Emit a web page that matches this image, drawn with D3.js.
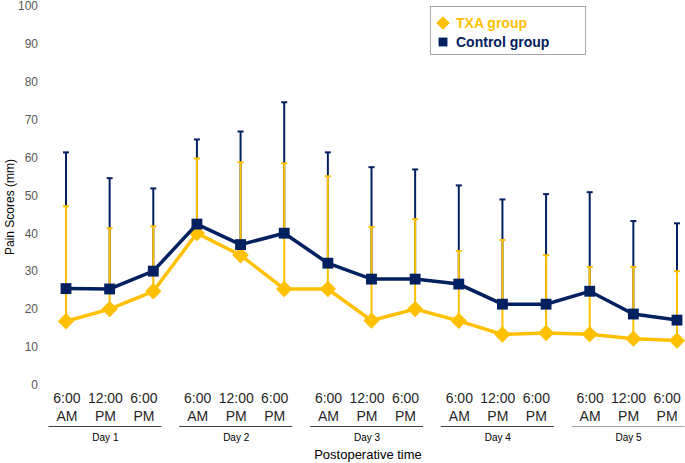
<!DOCTYPE html>
<html><head><meta charset="utf-8">
<script src="https://cdn.jsdelivr.net/npm/d3@7"></script>
<style>html,body{margin:0;padding:0;background:#fff;}svg{display:block;}</style>
</head><body>
<svg id="chart" width="685" height="463"></svg>
<script>
const days = ["Day 1","Day 2","Day 3","Day 4","Day 5"];
const times = [["6:00","AM"],["12:00","PM"],["6:00","PM"]];
const categories = days.flatMap(d => times.map(t => d + " " + t.join(" ")));
const txaMean     = [16.8,20.0,24.7,40.0,34.2,25.3,25.3,17.0,20.0,16.9,13.3,13.7,13.4,12.2,11.7];
const txaUpper    = [47.1,41.3,41.8,59.7,58.7,58.4,55.0,41.6,43.7,35.3,38.2,34.2,31.1,31.1,30.0];
const controlMean = [25.4,25.3,30.0,42.4,37.0,40.0,32.1,27.9,27.9,26.6,21.3,21.3,24.7,18.7,17.1];
const controlUpper= [61.3,54.5,51.8,64.7,66.8,74.5,61.3,57.4,56.8,52.6,48.9,50.3,50.8,43.2,42.6];
const yTicks = [0,10,20,30,40,50,60,70,80,90,100];
const seriesNames = ["TXA group","Control group"];

const GOLD = "#FFC000", NAVY = "#002060";
const svg = d3.select("#chart");
const x = d3.scalePoint().domain(categories).range([66, 677]);
const y = d3.scaleLinear().domain([0,100]).range([385, 5.5]);
const dayScale = d3.scaleBand().domain(days).range([44, 698]);

// y tick labels
svg.append("g").selectAll("text").data(yTicks).join("text")
  .attr("x", 38).attr("y", d => y(d) + 4.3)
  .attr("text-anchor","end").attr("font-family","Liberation Sans, Arial, sans-serif")
  .attr("font-size", 12).attr("fill","#595959").text(d => d);

svg.append("text").attr("transform","translate(14,207) rotate(-90)")
  .attr("text-anchor","middle").attr("font-family","Liberation Sans, Arial, sans-serif")
  .attr("font-size",12).attr("fill","#000").text("Pain Scores (mm)");

// error bars
function errBars(mean, upper, color) {
  const g = svg.append("g");
  g.selectAll("line.v").data(categories).join("line")
    .attr("x1", d => x(d)).attr("x2", d => x(d))
    .attr("y1", (d,i) => y(mean[i])).attr("y2", (d,i) => y(upper[i]))
    .attr("stroke", color).attr("stroke-width", 2);
  g.selectAll("line.c").data(categories).join("line")
    .attr("x1", d => x(d)-3).attr("x2", d => x(d)+3)
    .attr("y1", (d,i) => y(upper[i])).attr("y2", (d,i) => y(upper[i]))
    .attr("stroke", color).attr("stroke-width", 2);
}
errBars(controlMean, controlUpper, NAVY);
errBars(txaMean, txaUpper, GOLD);

const line = vals => d3.line().x((d,i) => x(categories[i])).y(d => y(d))(vals);
// TXA line
svg.append("path").attr("d", line(txaMean)).attr("fill","none").attr("stroke",GOLD).attr("stroke-width",3.5);
svg.append("g").selectAll("path").data(txaMean).join("path")
  .attr("d", d3.symbol(d3.symbolDiamond2, 170)())
  .attr("transform", (d,i) => `translate(${x(categories[i])},${y(d)})`)
  .attr("fill", GOLD);
// control line
svg.append("path").attr("d", line(controlMean)).attr("fill","none").attr("stroke",NAVY).attr("stroke-width",3.5);
svg.append("g").selectAll("path").data(controlMean).join("path")
  .attr("d", d3.symbol(d3.symbolSquare2, 150)())
  .attr("transform", (d,i) => `translate(${x(categories[i])},${y(d)})`)
  .attr("fill", NAVY);

// x labels
const xg = svg.append("g").attr("font-family","Liberation Sans, Arial, sans-serif");
days.forEach((day, di) => {
  const cx = dayScale(day) + dayScale.bandwidth()/2 - 4;
  times.forEach((t, ti) => {
    const tx = cx + (ti-1)*38.5;
    xg.append("text").attr("x", tx).attr("y", 403).attr("text-anchor","middle")
      .attr("font-size",14).attr("fill","#262626").text(t[0]);
    xg.append("text").attr("x", tx).attr("y", 421).attr("text-anchor","middle")
      .attr("font-size",14).attr("fill","#262626").text(t[1]);
  });
  xg.append("line").attr("x1", cx-57).attr("x2", cx+56).attr("y1",426.5).attr("y2",426.5)
    .attr("stroke", di === 4 ? "#a6a6a6" : "#404040").attr("stroke-width",1);
  xg.append("text").attr("x", cx).attr("y", 441).attr("text-anchor","middle")
    .attr("font-size",10).attr("fill","#000").text(day);
});
svg.append("text").attr("x",368).attr("y",459).attr("text-anchor","middle")
  .attr("font-family","Liberation Sans, Arial, sans-serif").attr("font-size",13)
  .attr("fill","#000").text("Postoperative time");

// legend
const lg = svg.append("g").attr("font-family","Liberation Sans, Arial, sans-serif");
lg.append("rect").attr("x",430.5).attr("y",6.5).attr("width",155).attr("height",48)
  .attr("fill","#fff").attr("stroke","#a6a6a6").attr("stroke-width",1);
lg.append("path").attr("d", d3.symbol(d3.symbolDiamond2, 120)()).attr("transform","translate(443,23)").attr("fill",GOLD);
lg.append("path").attr("d", d3.symbol(d3.symbolSquare2, 100)()).attr("transform","translate(443,42)").attr("fill",NAVY);
lg.append("text").attr("x",456).attr("y",28).attr("font-size",14).attr("font-weight","bold").attr("fill",GOLD).text(seriesNames[0]);
lg.append("text").attr("x",456).attr("y",47).attr("font-size",14).attr("font-weight","bold").attr("fill",NAVY).text(seriesNames[1]);
</script>
</body></html>
